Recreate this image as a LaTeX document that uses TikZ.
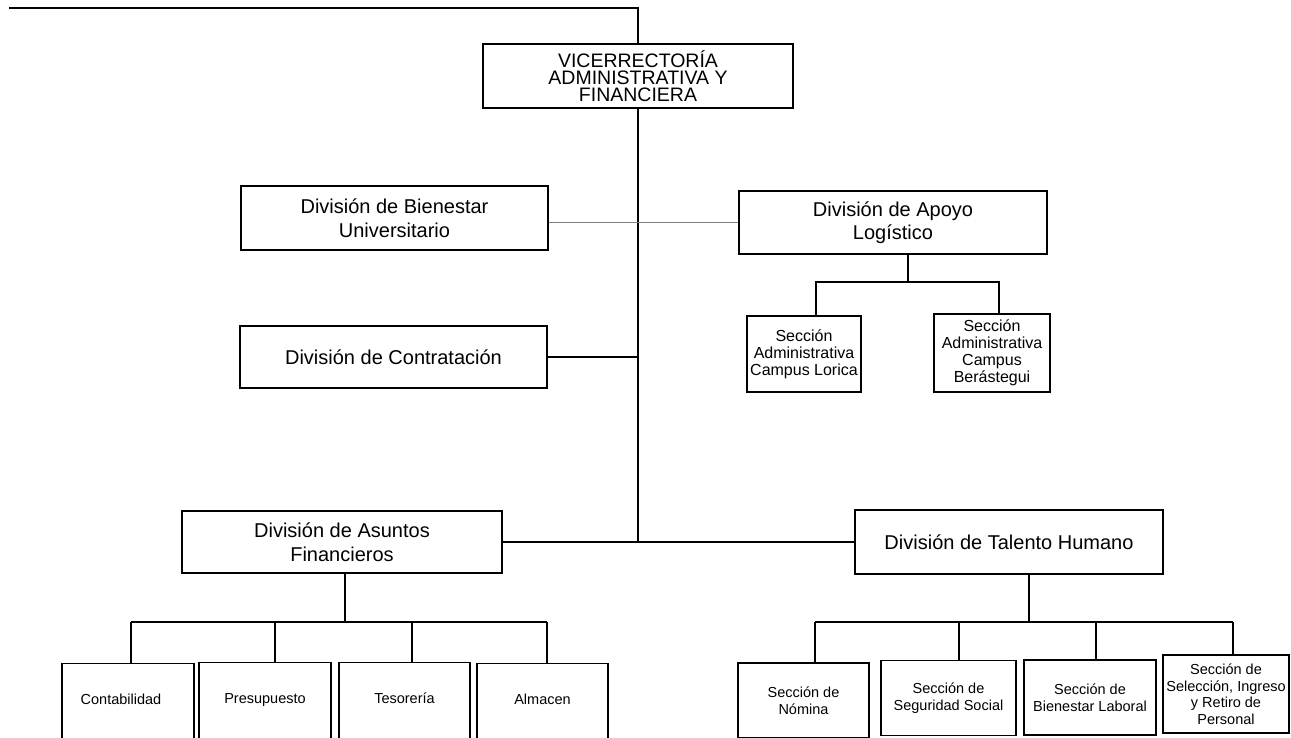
\documentclass[tikz,border=0pt]{standalone}
\usepackage{fontspec}
\setmainfont{Liberation Sans}
\begin{document}
\begin{tikzpicture}[x=1pt, y=-1pt,
		box/.style={draw, line width=1.2pt, fill=white, inner sep=0pt, align=center, font=\fontsize{20}{23.5}\selectfont},
		sbox/.style={box, font=\fontsize{16}{17}\selectfont},
		tbox/.style={box, font=\fontsize{14.5}{16.5}\selectfont},
		openbox/.style={tbox, anchor=north, minimum width=131pt, text height=41pt, text depth=50pt},
		link/.style={line width=1.2pt},
		thinlink/.style={gray, line width=0.8pt}]
	\def\lefty{622}
	\def\righty{622}
	\fill[white] (0,0) rectangle (1291,738);
	\useasboundingbox (0,0) rectangle (1291,738);
	\clip (0,0) rectangle (1291,738);

	\node[box, minimum width=310pt, minimum height=64pt, font=\fontsize{19.5}{17}\selectfont] (vice) at (638,76) {VICERRECTORÍA\\ADMINISTRATIVA Y\\FINANCIERA};
	\node[box, minimum width=307pt, minimum height=64pt] (bienestar) at (394.5,218) {División de Bienestar\\Universitario};
	\node[box, minimum width=308pt, minimum height=63pt] (apoyo) at (893,222.5) {División de Apoyo\\Logístico};
	\node[box, minimum width=307pt, minimum height=62pt] (contrat) at (393.5,357) {División de Contratación};
	\node[sbox, minimum width=114pt, minimum height=76pt] (lorica) at (804,354) {Sección\\Administrativa\\Campus Lorica};
	\node[sbox, minimum width=116pt, minimum height=78pt] (beras) at (992,353) {Sección\\Administrativa\\Campus\\Berástegui};
	\node[box, minimum width=320pt, minimum height=62pt] (asuntos) at (342,542) {División de Asuntos\\Financieros};
	\node[box, minimum width=308pt, minimum height=64pt] (talento) at (1009,542) {División de Talento Humano};

	\node[openbox, minimum width=132pt] (contab) at (128,663) {Contabilidad\hspace*{14pt}};
	\node[openbox, minimum width=132pt] (presup) at (265,662) {Presupuesto};
	\node[openbox] (tesor) at (404.5,662) {Tesorería};
	\node[openbox] (almac) at (542.5,663) {Almacen};

	\node[tbox, minimum width=131pt, minimum height=75pt] (nomina) at (803.5,700.5) {Sección de\\Nómina};
	\node[tbox, minimum width=135pt, minimum height=75pt] (segur) at (948.5,698) {Sección de\\Seguridad Social};
	\node[tbox, minimum width=132pt, minimum height=75pt] (bienlab) at (1090,697.5) {Sección de\\Bienestar Laboral};
	\node[tbox, minimum width=126pt, minimum height=78pt] (selec) at (1226,694) {Sección de\\Selección, Ingreso\\y Retiro de\\Personal};

	\coordinate (start) at (9,8);
	\coordinate (hub) at (638,542);
	\draw[link, line width=1.8pt] (start) -| (vice.north);
	\draw[link] (vice.south) -- (hub);
	\draw[thinlink] (apoyo.west) -- (apoyo.west -| bienestar.east);
	\draw[link] (contrat.east) -- (contrat.east -| vice.south);
	\draw[link] (asuntos.east) -- (talento.west);

	\coordinate (apoyohub) at (908,282);
	\coordinate (lorhub) at (816,282);
	\coordinate (berhub) at (999,282);
	\draw[link] (apoyohub |- apoyo.south) -- (apoyohub);
	\draw[link] (lorhub |- lorica.north) -- (lorhub) -- (berhub) -- (berhub |- beras.north);

	\coordinate (asuhub) at (345,\lefty);
	\draw[link] (asuhub |- asuntos.south) -- (asuhub);
	\draw[link] (131,\lefty) -- (547,\lefty);
	\foreach \n/\x in {contab/131, presup/275, tesor/412, almac/547}
		\draw[link] (\x,\lefty) -- (\x,\lefty |- \n.north);

	\coordinate (talhub) at (1029,\righty);
	\draw[link] (talhub |- talento.south) -- (talhub);
	\draw[link] (815,\righty) -- (1233,\righty);
	\foreach \n/\x in {nomina/815, segur/959, bienlab/1096, selec/1233}
		\draw[link] (\x,\righty) -- (\x,\righty |- \n.north);
\end{tikzpicture}
\end{document}
